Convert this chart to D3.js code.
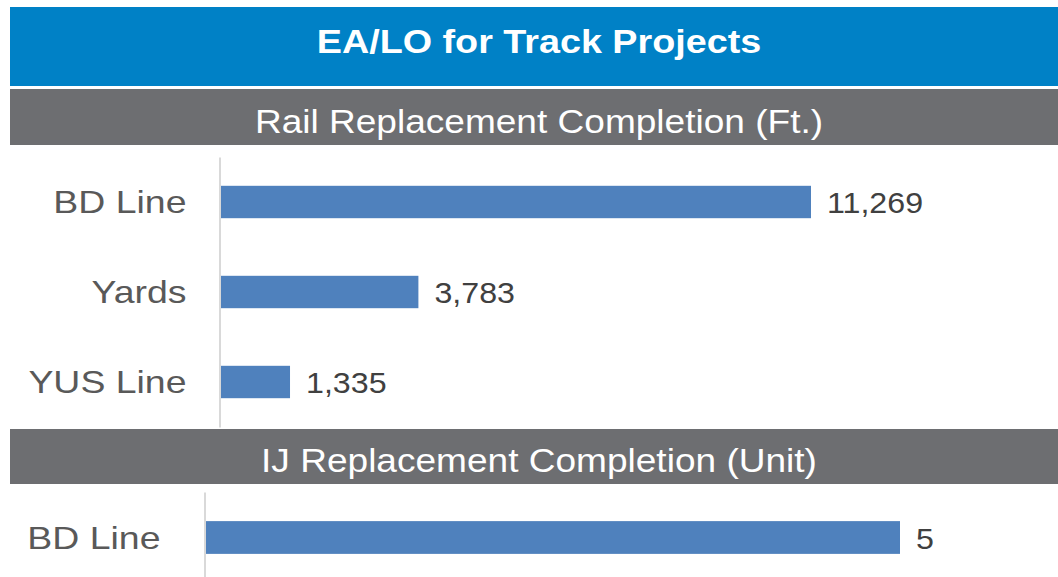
<!DOCTYPE html>
<html>
<head>
<meta charset="utf-8">
<script src="https://cdn.jsdelivr.net/npm/d3@7"></script>
<style>
  html, body { margin: 0; padding: 0; background: #ffffff; }
  svg { display: block; font-family: "Liberation Sans", Arial, sans-serif; }
</style>
</head>
<body>
<svg id="chart"></svg>
<script>
// data
const chartTitle = "EA/LO for Track Projects";
const railTitle = "Rail Replacement Completion (Ft.)";
const railCategories = ["BD Line", "Yards", "YUS Line"];
const railValues = [11269, 3783, 1335];
const ijTitle = "IJ Replacement Completion (Unit)";
const ijCategories = ["BD Line"];
const ijValues = [5];

// colours
const titleBlue = "#0081c6";
const headerGray = "#6d6e71";
const barColor = "#4f81bd";
const axisLineColor = "#d9d9d9";
const categoryTextColor = "#595959";
const valueTextColor = "#404040";

// the slide is slightly stretched horizontally
const stretch = 1.11;
const headerStretch = 1.09;
const catStretch = 1.17;

const width = 1058;
const height = 577;

const svg = d3.select("#chart")
  .attr("width", width)
  .attr("height", height)
  .attr("viewBox", `0 0 ${width} ${height}`);

// stretched text helper
const addText = (parent, x, y, text, size, color, weight, anchor, sx = stretch) => {
  return parent.append("text")
    .attr("transform", `translate(${x},${y}) scale(${sx},1)`)
    .attr("text-anchor", anchor)
    .attr("dy", "0.35em")
    .style("font-size", size + "px")
    .style("font-weight", weight)
    .style("fill", color)
    .text(text);
};

// title band
svg.append("rect")
  .attr("x", 10).attr("y", 7)
  .attr("width", width - 10).attr("height", 79)
  .attr("fill", titleBlue);
addText(svg, 539, 41, chartTitle, 34, "#ffffff", "bold", "middle");

// section header
const drawHeader = (y, h, text) => {
  svg.append("rect")
    .attr("x", 10).attr("y", y)
    .attr("width", width - 10).attr("height", h)
    .attr("fill", headerGray);
  addText(svg, 539, y + h / 2 + 4, text, 34, "#ffffff", "normal", "middle", headerStretch);
};

// horizontal bar chart
const drawBars = (cats, vals, opts) => {
  const g = svg.append("g");

  const y = d3.scaleBand()
    .domain(cats)
    .range([opts.top, opts.bottom])
    .paddingInner(0.64)
    .paddingOuter(0.32);

  const x = d3.scaleLinear()
    .domain([0, d3.max(vals)])
    .range([opts.left, opts.right]);

  const data = cats.map((c, i) => ({ cat: c, value: vals[i] }));

  // bars
  g.selectAll(".bar")
    .data(data)
    .enter()
    .append("rect")
    .attr("class", "bar")
    .attr("x", x(0))
    .attr("y", (d) => y(d.cat))
    .attr("width", (d) => x(d.value) - x(0))
    .attr("height", y.bandwidth())
    .attr("fill", barColor);

  // category axis
  const axis = g.append("g")
    .attr("transform", `translate(${x(0) - 0.5},0)`)
    .call(d3.axisLeft(y).tickSize(0).tickSizeOuter(0));
  axis.select(".domain").attr("stroke", axisLineColor).attr("stroke-width", 2);
  axis.selectAll("text")
    .attr("x", -opts.pad / catStretch)
    .attr("transform", `scale(${catStretch},1)`)
    .attr("dy", "0.35em")
    .style("font-family", "Liberation Sans, Arial, sans-serif")
    .style("font-size", "32px")
    .style("fill", categoryTextColor);

  // value labels
  data.forEach((d) => {
    addText(g, x(d.value) + 16, y(d.cat) + y.bandwidth() / 2 + 1,
      d3.format(",")(d.value), 29, valueTextColor, "normal", "start");
  });
};

drawHeader(89, 56, railTitle);
drawBars(railCategories, railValues, { top: 157, bottom: 427, left: 220, right: 811, pad: 33 });

drawHeader(429, 55, ijTitle);
drawBars(ijCategories, ijValues, { top: 492, bottom: 583, left: 205, right: 900, pad: 44 });
</script>
</body>
</html>
